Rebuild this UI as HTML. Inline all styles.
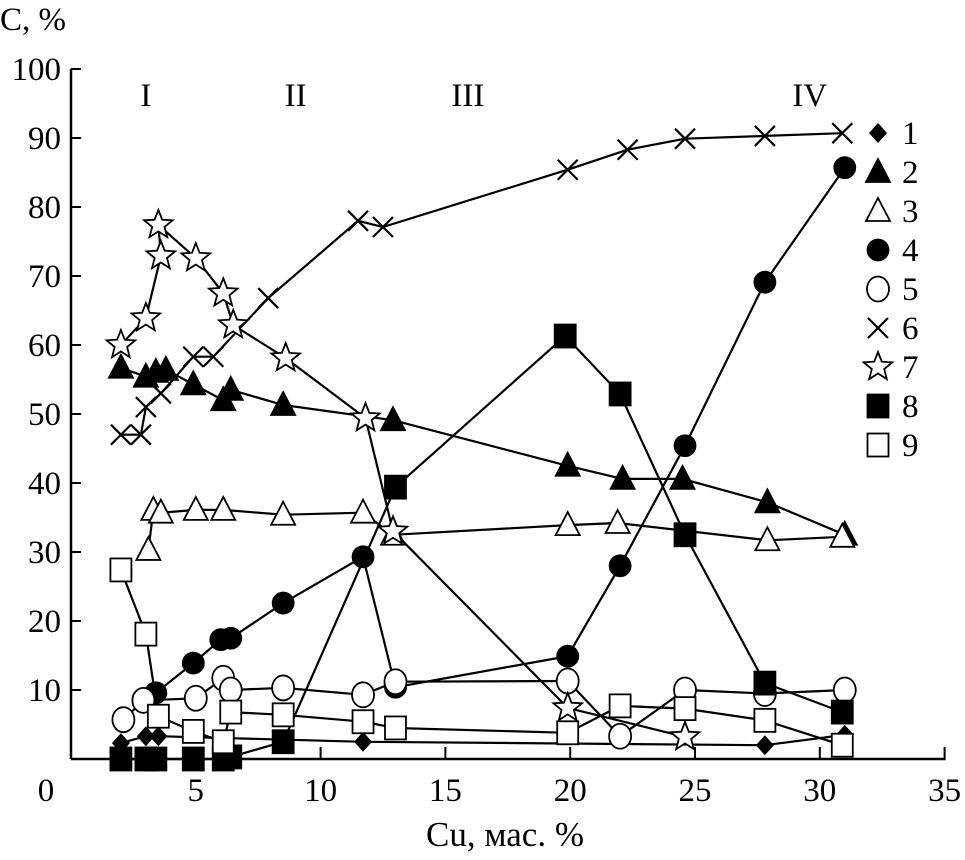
<!DOCTYPE html>
<html><head><meta charset="utf-8"><style>
html,body{margin:0;padding:0;background:#fff;}
svg{display:block;font-family:"Liberation Serif",serif;}
</style></head><body>
<svg id="chart" width="965" height="860" viewBox="0 0 965 860" xmlns="http://www.w3.org/2000/svg"></svg>
<script>
const xTicks=[0,5,10,15,20,25,30,35];
const yTicks=[10,20,30,40,50,60,70,80,90,100];
const s1x=[2.0,3.0,3.5,11.7,27.8,31.0];
const s1y=[2.3,3.3,3.3,2.5,2.0,3.5];
const s2x=[2.0,3.0,3.4,3.8,4.9,6.1,6.4,8.5,12.9,19.9,22.1,24.5,27.9,31.0];
const s2y=[56.7,55.4,56.1,56.4,54.3,52.0,53.5,51.3,49.1,42.5,40.6,40.6,37.2,32.5];
const s3x=[3.1,3.3,3.6,5.0,6.1,8.5,11.7,12.9,19.9,21.9,27.9,30.9];
const s3y=[30.3,36.1,35.7,36.1,36.1,35.4,35.7,32.5,33.9,34.2,31.7,32.2];
const s4x=[3.4,4.9,6.0,6.4,8.5,11.7,13.0,19.9,22.0,24.6,27.8,31.0];
const s4y=[9.6,13.9,17.3,17.5,22.6,29.3,10.4,14.9,28.0,45.4,69.1,85.7];
const s5x=[2.1,2.9,5.0,6.1,6.4,8.5,11.7,13.0,19.9,22.0,24.6,27.8,31.0];
const s5y=[5.7,8.5,8.8,11.7,10.0,10.3,9.3,11.2,11.3,3.3,10.0,9.5,10.0];
const s6x=[2.0,2.8,3.0,3.6,4.9,5.7,7.9,11.5,12.5,19.9,22.3,24.6,27.8,30.9];
const s6y=[47,47,51,53,58.3,58.3,66.8,78,77.1,85.4,88.3,89.9,90.3,90.7];
const s7x=[2.0,3.0,3.6,3.5,5.0,6.1,6.5,8.6,11.8,12.9,19.9,24.6];
const s7y=[60,63.9,72.9,77.4,72.6,67.5,62.9,58.1,49.4,33.0,7.4,3.2];
const s8x=[2.0,3.0,3.4,4.9,6.1,6.4,8.5,13.0,19.8,22.0,24.6,27.8,30.9];
const s8y=[0,0,0,0,0,0.3,2.5,39.4,61.3,52.9,32.5,11.0,6.8];
const s9x=[2.0,3.0,3.5,4.9,6.1,6.4,8.5,11.7,13.0,19.9,22.0,24.6,27.8,30.9];
const s9y=[27.4,18.1,6.2,4.0,2.5,6.8,6.4,5.4,4.5,3.8,7.7,7.3,5.6,2.0];
const legendLabels=["1","2","3","4","5","6","7","8","9"];
const regionLabels=["I","II","III","IV"];
const regionX=[3.0,9.0,15.9,29.6];

const NS="http://www.w3.org/2000/svg";
const svg=document.getElementById('chart');
const X0=71,XS=24.96,Y0=759,YS=6.9;
const sx=v=>X0+v*XS, sy=v=>Y0-v*YS;
function el(tag,attrs,parent){const e=document.createElementNS(NS,tag);for(const k in attrs)e.setAttribute(k,attrs[k]);(parent||svg).appendChild(e);return e;}
function txt(x,y,t,size,anchor,parent){const e=el('text',{x:x,y:y,'font-size':size,'text-anchor':anchor||'middle',fill:'#000'},parent);e.textContent=t;return e;}

const axes=el('g',{});


const ya=el('line',{x1:X0,y1:sy(100),x2:X0,y2:Y0,stroke:'#000','stroke-width':2.5},axes);


const xa=el('line',{x1:X0,y1:Y0,x2:sx(35)+1,y2:Y0,stroke:'#000','stroke-width':2.5},axes);


xTicks.forEach(t=>{
  if(t>0){const tk=el('line',{x1:sx(t),y1:Y0,x2:sx(t),y2:Y0-12,stroke:'#000','stroke-width':2},axes);
  
  }
  const lb=txt(t===0?46:sx(t),801,String(t),33,'middle',axes);
  
  
});
yTicks.forEach(t=>{
  const tk=el('line',{x1:X0,y1:sy(t),x2:X0+10,y2:sy(t),stroke:'#000','stroke-width':2},axes);
  
  
  const lb=txt(X0-10,sy(t)+11,String(t),33,'end',axes);
  
  
});
const yt=txt(0,30,'C, %',33,'start',axes);


const xt=txt(505,846,'Cu, мас. %',35,'middle',axes);


regionLabels.forEach((r,i)=>{
  const t=txt(sx(regionX[i]),106,r,33,'middle',axes);
  
  
});

function marker(type,x,y,parent){
  let m;
  switch(type){
    case 'diamond': m=el('polygon',{points:`${x},${y-10} ${x+9},${y} ${x},${y+10} ${x-9},${y}`,fill:'#000'},parent);break;
    case 'tri': case 'otri': m=el('polygon',{points:`${x},${y-13} ${x+12},${y+10} ${x-12},${y+10}`,fill:type==='tri'?'#000':'#fff',stroke:'#000','stroke-width':1.8},parent);break;
    case 'dot': case 'circ': m=el('ellipse',{cx:x,cy:y,rx:type==='dot'?10.5:11,ry:type==='dot'?10.5:12.5,fill:type==='dot'?'#000':'#fff',stroke:'#000','stroke-width':1.8},parent);break;
    case 'cross': m=el('path',{d:`M${x-10},${y-10}L${x+10},${y+10}M${x-10},${y+10}L${x+10},${y-10}`,stroke:'#000','stroke-width':2.2,fill:'none'},parent);break;
    case 'star': {let p=[];for(let i=0;i<10;i++){const a=-Math.PI/2+i*Math.PI/5;const rr=i%2?6.5:15;p.push((x+rr*Math.cos(a)).toFixed(1)+','+(y+rr*Math.sin(a)).toFixed(1));}
      m=el('polygon',{points:p.join(' '),fill:'#fff',stroke:'#000','stroke-width':1.8},parent);break;}
    case 'sq': case 'osq': m=el('rect',{x:x-10.5,y:y-11.5,width:21,height:23,fill:type==='sq'?'#000':'#fff',stroke:'#000','stroke-width':1.8},parent);break;
  }
  return m;
}
const series=[[s1x,s1y,'diamond'],[s2x,s2y,'tri'],[s3x,s3y,'otri'],[s4x,s4y,'dot'],[s5x,s5y,'circ'],[s6x,s6y,'cross'],[s7x,s7y,'star'],[s8x,s8y,'sq'],[s9x,s9y,'osq']];
series.forEach((s,i)=>{
  const g=el('g',{});
  
  
  const pts=s[0].map((v,j)=>sx(v).toFixed(1)+','+sy(s[1][j]).toFixed(1)).join(' ');
  const pl=el('polyline',{points:pts,fill:'none',stroke:'#000','stroke-width':2.2},g);
  
  
  s[0].forEach((v,j)=>{
    const m=marker(s[2],sx(v),sy(s[1][j]),g);
    
    
  });
});
const leg=el('g',{});


legendLabels.forEach((l,i)=>{
  const y=133+i*39;
  const m=marker(series[i][2],878,y,leg);
  
  
  const t=txt(902,y+11,l,33,'start',leg);
  
  
});
</script>
</body></html>
